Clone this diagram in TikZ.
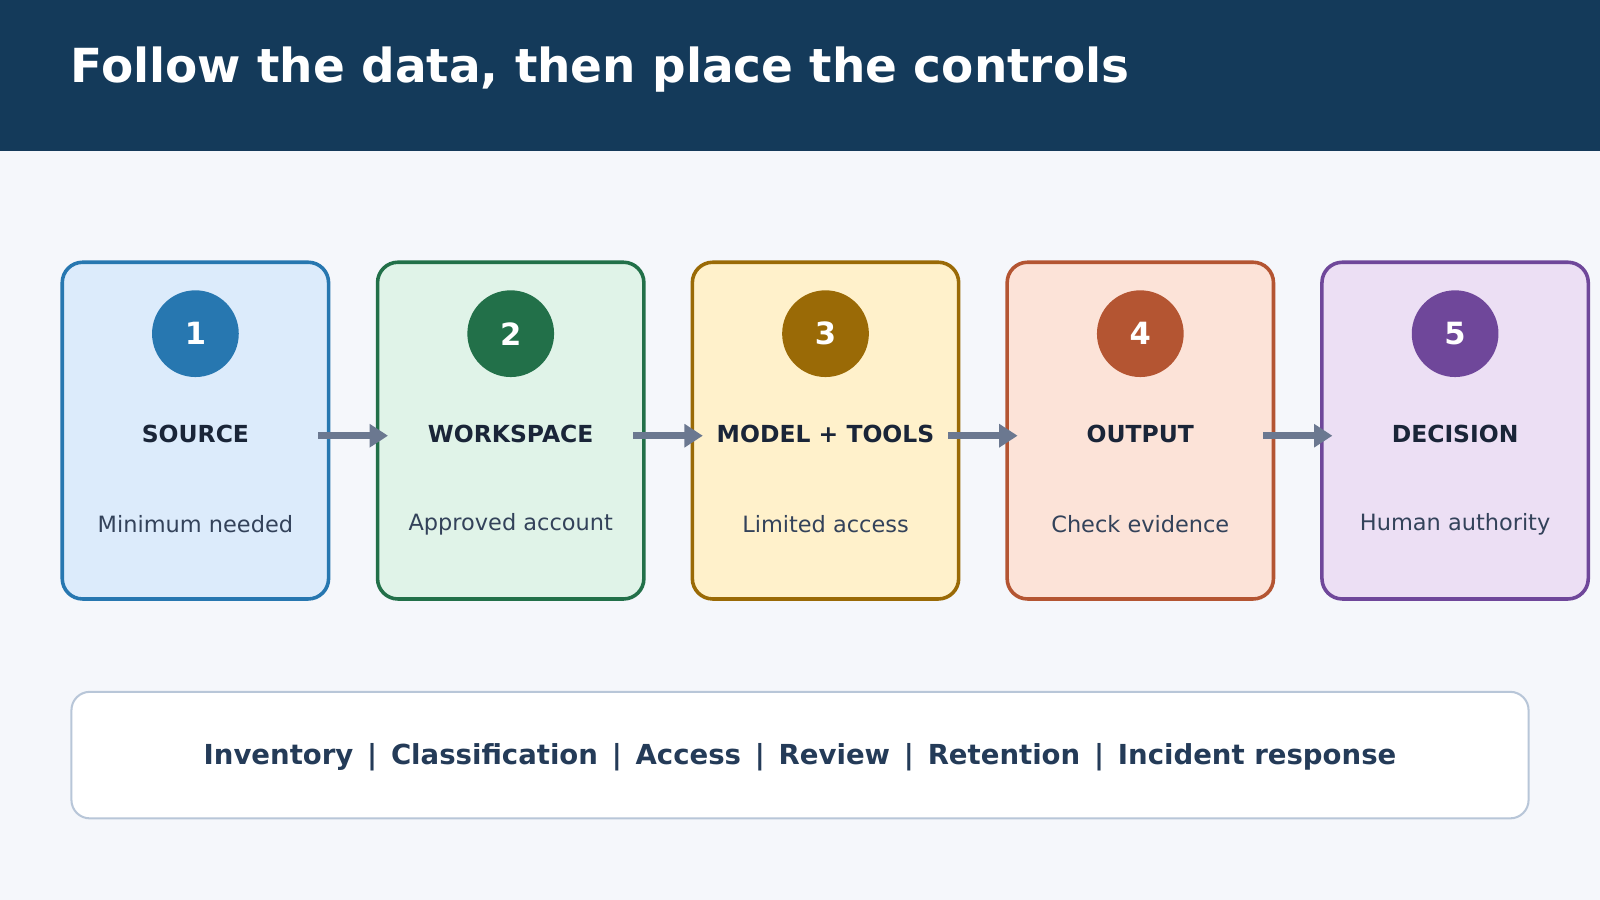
\documentclass[tikz,border=0pt]{standalone}
\usepackage{fontspec}
\setmainfont{DejaVu Sans}
\usetikzlibrary{arrows.meta}
\definecolor{hdr}{HTML}{143A5A}
\definecolor{bg}{HTML}{F5F7FB}
\definecolor{cA}{HTML}{2777B0}\definecolor{fA}{HTML}{DCEBFB}
\definecolor{cB}{HTML}{227049}\definecolor{fB}{HTML}{E0F3E8}
\definecolor{cC}{HTML}{9A6A06}\definecolor{fC}{HTML}{FFF1CB}
\definecolor{cD}{HTML}{B45532}\definecolor{fD}{HTML}{FCE3D8}
\definecolor{cE}{HTML}{6F479A}\definecolor{fE}{HTML}{ECDFF4}
\definecolor{dark}{HTML}{1A2538}
\definecolor{sub}{HTML}{33425A}
\definecolor{btxt}{HTML}{243B58}
\definecolor{bbor}{HTML}{B8C6D8}
\definecolor{arr}{HTML}{6B7890}
\tikzset{
 card/.style={draw=#1, line width=3.5pt, rounded corners=20pt, minimum width=261pt, minimum height=330pt, inner sep=0pt},
 badge/.style={circle, fill=#1, minimum size=85pt, inner sep=0pt, text=white, font=\fontsize{30}{30}\selectfont\bfseries},
 lbl/.style={text=dark, font=\fontsize{23}{23}\selectfont\bfseries},
 subl/.style={text=sub, font=\fontsize{22}{22}\selectfont},
 flow/.style={draw=arr, line width=7pt, -{Triangle[length=18pt,width=22pt]}, shorten <=-12pt, shorten >=-12pt}
}
\begin{document}
\begin{tikzpicture}[x=1pt,y=-1pt]
\useasboundingbox (0,0) rectangle (1568,882);
\fill[bg] (0,0) rectangle (1568,882);
\fill[hdr] (0,0) rectangle (1568,148);
\node[anchor=west, text=white, font=\fontsize{46}{46}\selectfont\bfseries] (title) at (66,68) {Follow the data, then place the controls};
\foreach \i/\x/\c/\t/\s in {1/191.5/A/SOURCE/Minimum needed, 2/500.5/B/WORKSPACE/Approved account, 3/809/C/MODEL + TOOLS/Limited access, 4/1117.5/D/OUTPUT/Check evidence, 5/1426/E/DECISION/Human authority}{
  \node[card=c\c, fill=f\c] (box\i) at (\x,422) {};
  \node[badge=c\c] (n\i) at (\x,327) {\raisebox{-3pt}{\i}};
  \node[lbl] (l\i) at (\x,425) {\t};
  \node[subl] (s\i) at (\x,514) {\s};
}
\foreach \a/\b in {1/2,2/3,3/4,4/5}{
  \draw[flow] ([yshift=-5pt]box\a.east) -- ([yshift=-5pt]box\b.west);
}
\node[draw=bbor, line width=2pt, fill=white, rounded corners=18pt, minimum width=1428pt, minimum height=124pt] (ctrl) at (784,740) {};
\node[text=btxt, font=\fontsize{27}{27}\selectfont\bfseries] (ctext) at (784,742) {Inventory\enspace|\enspace Classification\enspace|\enspace Access\enspace|\enspace Review\enspace|\enspace Retention\enspace|\enspace Incident response};
\end{tikzpicture}
\end{document}
